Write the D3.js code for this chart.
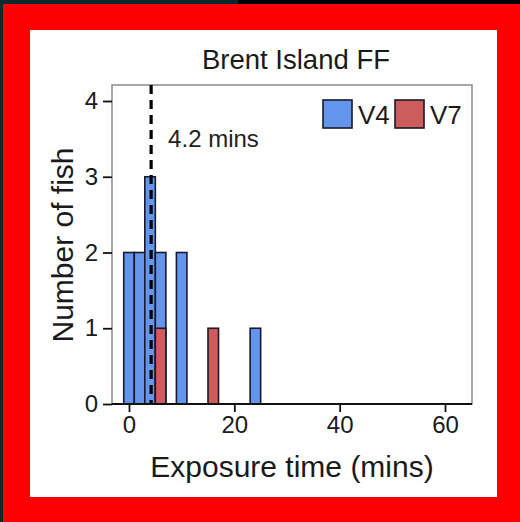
<!DOCTYPE html>
<html>
<head>
<meta charset="utf-8">
<script src="https://cdn.jsdelivr.net/npm/d3@7"></script>
<style>
  html, body { margin: 0; padding: 0; background: #000; }
  svg { display: block; font-family: Arial, "Liberation Sans", sans-serif; }
</style>
</head>
<body>
<svg id="chart" width="520" height="522"></svg>
<script>
// histogram bins (2 min wide), counts per bin
const binStarts = [-1, 1, 3, 5, 9, 15, 23];
const v4Counts = [2, 2, 3, 2, 2, 0, 1];
const v7Counts = [0, 0, 0, 1, 0, 1, 0];
const binWidth = 2;
const xTicks = [0, 20, 40, 60];
const yTicks = [0, 1, 2, 3, 4];
const medianTime = 4.2;
const seriesNames = ['V4', 'V7'];
const colors = { V4: '#6495ed', V7: '#cd5c5c' };

const svg = d3.select('#chart');

// backdrop / frame
svg.append('rect').attr('width', 520).attr('height', 522).attr('fill', '#000');
svg.append('rect').attr('width', 238).attr('height', 522).attr('fill', '#0b2a30');
svg.append('rect').attr('x', 3).attr('y', 4).attr('width', 517).attr('height', 518).attr('fill', '#ff0000');
svg.append('rect').attr('x', 30).attr('y', 30).attr('width', 467).attr('height', 467).attr('fill', '#fff');

const x = d3.scaleLinear().domain([0, 60]).range([129, 445]);
const y = d3.scaleLinear().domain([0, 4]).range([404, 101]);

const box = { left: 112, right: 472, top: 85, bottom: 404 };

// plot box (grey)
svg.append('rect')
    .attr('x', box.left).attr('y', box.top)
    .attr('width', box.right - box.left).attr('height', box.bottom - box.top)
    .attr('fill', 'none').attr('stroke', '#8a8a8a').attr('stroke-width', 1.5);

const bins = binStarts.map((s, i) => ({ x0: s, x1: s + binWidth, v4: v4Counts[i], v7: v7Counts[i] }));

const drawBars = (key) => {
    svg.append('g').selectAll('rect')
        .data(bins.filter(d => d[key.toLowerCase()] > 0))
        .enter().append('rect')
        .attr('x', d => x(d.x0))
        .attr('width', d => x(d.x1) - x(d.x0))
        .attr('y', d => y(d[key.toLowerCase()]))
        .attr('height', d => y(0) - y(d[key.toLowerCase()]))
        .attr('fill', colors[key])
        .attr('stroke', '#1a1a2a')
        .attr('stroke-width', 1.6);
};
drawBars('V4');
drawBars('V7');

// median line
svg.append('line')
    .attr('x1', x(medianTime)).attr('x2', x(medianTime))
    .attr('y1', box.top).attr('y2', box.bottom)
    .attr('stroke', '#000').attr('stroke-width', 3.2)
    .attr('stroke-dasharray', '9,6');

svg.append('text')
    .attr('x', x(medianTime) + 17).attr('y', 147)
    .attr('font-size', 24).attr('fill', '#222')
    .text(medianTime + ' mins');

// axes
const xAxis = svg.append('g')
    .attr('transform', `translate(0,${box.bottom})`)
    .call(d3.axisBottom(x).tickValues(xTicks).tickSize(8).tickPadding(4));
xAxis.select('.domain').attr('d', `M${box.left},0H${box.right}`);

const yAxis = svg.append('g')
    .attr('transform', `translate(${box.left},0)`)
    .call(d3.axisLeft(y).tickValues(yTicks).tickFormat(d3.format('d')).tickSize(9).tickPadding(5));
yAxis.select('.domain').remove();

[xAxis, yAxis].forEach(g => {
    g.selectAll('line, path').attr('stroke', '#111').attr('stroke-width', 1.8);
    g.selectAll('text').attr('font-size', 24).attr('fill', '#1a1a1a')
        .attr('font-family', 'Arial, "Liberation Sans", sans-serif');
});

// title & labels
svg.append('text')
    .attr('x', 296).attr('y', 69).attr('text-anchor', 'middle')
    .attr('font-size', 27.5).attr('fill', '#1a1a1a')
    .text('Brent Island FF');

svg.append('text')
    .attr('x', 292).attr('y', 477).attr('text-anchor', 'middle')
    .attr('font-size', 30).attr('fill', '#1a1a1a')
    .text('Exposure time (mins)');

svg.append('text')
    .attr('transform', 'translate(73,245) rotate(-90)')
    .attr('text-anchor', 'middle')
    .attr('font-size', 30).attr('fill', '#1a1a1a')
    .text('Number of fish');

// legend
const legend = svg.append('g');
const legendX = [323, 395];
seriesNames.forEach((name, i) => {
    legend.append('rect')
        .attr('x', legendX[i]).attr('y', 100).attr('width', 29).attr('height', 28)
        .attr('fill', colors[name]).attr('stroke', '#1a1a2a').attr('stroke-width', 1.6);
    legend.append('text')
        .attr('x', legendX[i] + 35).attr('y', 124)
        .attr('font-size', 26).attr('fill', '#1a1a1a')
        .text(name);
});
</script>
</body>
</html>
